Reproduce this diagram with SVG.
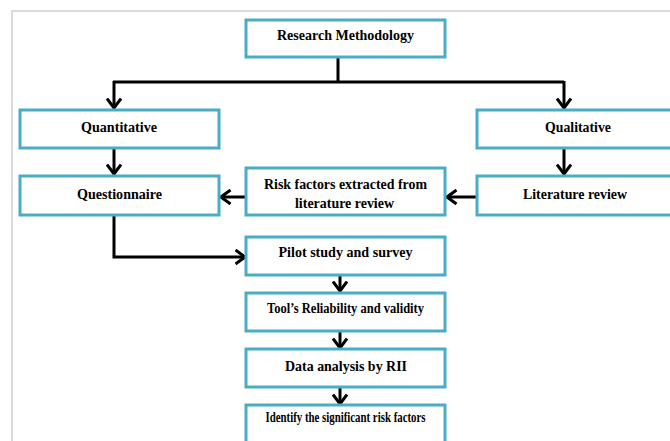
<svg xmlns="http://www.w3.org/2000/svg" width="670" height="441" viewBox="0 0 670 441">
<style>
.box{fill:#fff;stroke:#4bacc6;stroke-width:3}
.t{font-family:'Liberation Serif','DejaVu Serif',serif;font-weight:bold;font-size:14px;fill:#000;text-anchor:middle}
.c{fill:none;stroke:#000;stroke-width:3}
</style>
<defs>
<marker id="ah" markerUnits="userSpaceOnUse" viewBox="0 0 12 16" markerWidth="12" markerHeight="16" refX="10.5" refY="8" orient="auto">
<path d="M1,1 L10.5,8 L1,15" fill="none" stroke="#000" stroke-width="3"/>
</marker>
</defs>
<rect width="670" height="441" fill="#fff"/>
<path d="M12,441 V11 H670" fill="none" stroke="#cfcfcf" stroke-width="1.5"/>
<g id="connectors">
<path class="c" d="M338,57 V82 M113,82 H564"/>
<path class="c" d="M114,81 V108" marker-end="url(#ah)"/>
<path class="c" d="M564,81 V108" marker-end="url(#ah)"/>
<path class="c" d="M114,148 V174" marker-end="url(#ah)"/>
<path class="c" d="M564,148 V174" marker-end="url(#ah)"/>
<path class="c" d="M477,197 H447" marker-end="url(#ah)"/>
<path class="c" d="M246,197 H221" marker-end="url(#ah)"/>
<path class="c" d="M114,215 V257 H245" marker-end="url(#ah)"/>
<path class="c" d="M340,275 V291" marker-end="url(#ah)"/>
<path class="c" d="M340,332 V348" marker-end="url(#ah)"/>
<path class="c" d="M340,388 V404" marker-end="url(#ah)"/>
</g>
<g id="research"><rect class="box" x="246" y="20" width="199" height="37"/><text class="t" font-family="Liberation Serif, serif" x="345.5" y="40" textLength="137" lengthAdjust="spacingAndGlyphs">Research Methodology</text></g>
<g id="quantitative"><rect class="box" x="20" y="110" width="199" height="38"/><text class="t" font-family="Liberation Serif, serif" x="119" y="132" textLength="76" lengthAdjust="spacingAndGlyphs">Quantitative</text></g>
<g id="qualitative"><rect class="box" x="477" y="110" width="210" height="38"/><text class="t" font-family="Liberation Serif, serif" x="578" y="132" textLength="66" lengthAdjust="spacingAndGlyphs">Qualitative</text></g>
<g id="questionnaire"><rect class="box" x="20" y="176" width="199" height="39"/><text class="t" font-family="Liberation Serif, serif" x="119.5" y="199" textLength="85" lengthAdjust="spacingAndGlyphs">Questionnaire</text></g>
<g id="riskfactors"><rect class="box" x="246" y="168" width="199" height="47"/><text class="t" font-family="Liberation Serif, serif" x="345.5" y="189" textLength="163" lengthAdjust="spacingAndGlyphs">Risk factors extracted from</text><text class="t" font-family="Liberation Serif, serif" x="344.5" y="208" textLength="99" lengthAdjust="spacingAndGlyphs">literature review</text></g>
<g id="literature"><rect class="box" x="477" y="176" width="210" height="39"/><text class="t" font-family="Liberation Serif, serif" x="575" y="199" textLength="104" lengthAdjust="spacingAndGlyphs">Literature review</text></g>
<g id="pilot"><rect class="box" x="246" y="237" width="199" height="38"/><text class="t" font-family="Liberation Serif, serif" x="345.5" y="257" textLength="134" lengthAdjust="spacingAndGlyphs">Pilot study and survey</text></g>
<g id="tools"><rect class="box" x="246" y="293" width="199" height="38"/><text class="t" font-family="Liberation Serif, serif" x="345.5" y="312.5" font-size="13" textLength="157" lengthAdjust="spacingAndGlyphs">Tool’s Reliability and validity</text></g>
<g id="analysis"><rect class="box" x="246" y="349" width="199" height="38"/><text class="t" font-family="Liberation Serif, serif" x="346" y="370.5" font-size="16" textLength="122" lengthAdjust="spacingAndGlyphs">Data analysis by RII</text></g>
<g id="identify"><rect class="box" x="246" y="405" width="199" height="50"/><text class="t" font-family="Liberation Serif, serif" x="345.5" y="421.5" font-size="11" textLength="160" lengthAdjust="spacingAndGlyphs">Identify the significant risk factors</text></g>
</svg>
